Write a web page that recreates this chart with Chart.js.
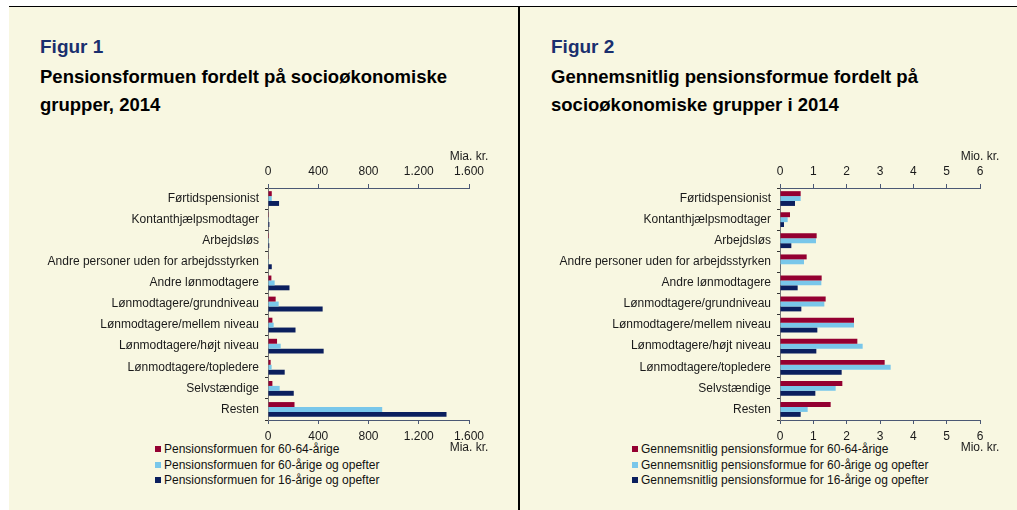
<!DOCTYPE html>
<html>
<head>
<meta charset="utf-8">
<script src="https://cdn.jsdelivr.net/npm/chart.js@4"></script>
<style>
	html, body {
		margin: 0;
		padding: 0;
		background: #ffffff;
		font-family: "Liberation Sans", Arial, sans-serif;
	}
	#page {
		position: relative;
		width: 1017px;
		height: 510px;
		overflow: hidden;
	}
	.panel {
		position: absolute;
		top: 6px;
		height: 504px;
		background: #f8f7e1;
		border-top: 1px solid #000;
	}
	.fig {
		position: absolute;
		font-weight: bold;
		font-size: 19px;
		color: #1a2f6e;
	}
	.title {
		position: absolute;
		font-weight: bold;
		font-size: 18.5px;
		line-height: 28px;
		color: #000;
	}
	.legend {
		position: absolute;
		font-size: 12px;
		color: #111;
		line-height: 15.5px;
	}
	.legend span {
		display: inline-block;
		width: 6px;
		height: 6px;
		margin-right: 3px;
		vertical-align: 1px;
	}
	canvas {
		position: absolute;
		top: 0;
	}
</style>
</head>
<body>
<div id="page">
	<div class="panel" style="left:9px; width:509px; border-right:2px solid #000;"></div>
	<div class="panel" style="left:520px; width:497px;"></div>

	<div class="fig" style="left:40px; top:36px;">Figur 1</div>
	<div class="title" style="left:40px; top:63px;">Pensionsformuen fordelt på socioøkonomiske<br>grupper, 2014</div>
	<div class="fig" style="left:551px; top:36px;">Figur 2</div>
	<div class="title" style="left:551px; top:63px;">Gennemsnitlig pensionsformue fordelt på<br>socioøkonomiske grupper i 2014</div>

	<div class="legend" id="legend1" style="left:155px; top:442px;"></div>
	<div class="legend" id="legend2" style="left:632px; top:442px;"></div>

	<div style="position:absolute; left:0; top:0; width:519px; height:510px;"><canvas id="chart1"></canvas></div>
	<div style="position:absolute; left:519px; top:0; width:498px; height:510px;"><canvas id="chart2"></canvas></div>
</div>
<script>
let categories = [
	'Førtidspensionist',
	'Kontanthjælpsmodtager',
	'Arbejdsløs',
	'Andre personer uden for arbejdsstyrken',
	'Andre lønmodtagere',
	'Lønmodtagere/grundniveau',
	'Lønmodtagere/mellem niveau',
	'Lønmodtagere/højt niveau',
	'Lønmodtagere/topledere',
	'Selvstændige',
	'Resten',
];

// Figur 1, mia. kr.
let formue6064 = [30, 2, 1, 3, 27, 61, 35, 72, 21, 35, 211];
let formue60plus = [30, 2, 1, 1, 53, 85, 45, 101, 29, 93, 909];
let formue16plus = [88, 11, 10, 30, 171, 435, 219, 443, 133, 205, 1421];
let ticks1 = [0, 400, 800, 1200, 1600];

// Figur 2, mio. kr.
let snit6064 = [0.62, 0.30, 1.10, 0.80, 1.25, 1.37, 2.22, 2.32, 3.14, 1.87, 1.52];
let snit60plus = [0.62, 0.23, 1.08, 0.72, 1.24, 1.33, 2.22, 2.48, 3.32, 1.67, 0.83];
let snit16plus = [0.45, 0.12, 0.34, 0.02, 0.53, 0.64, 1.12, 1.09, 1.85, 1.06, 0.62];
let ticks2 = [0, 1, 2, 3, 4, 5, 6];

let colors = ['#940031', '#79c7ea', '#0b1f5e'];
let axisColor = '#4b5874';
let textColor = '#1a1a1a';
let font = {family: '"Liberation Sans", Arial, sans-serif', size: 12};

let fmt = (v) => String(v).replace(/\B(?=(\d{3})+(?!\d))/g, '.');

// unit text centred on the last tick of both x axes
let unitPlugin = {
	id: 'unit',
	afterDraw(chart, args, opts) {
		let {ctx, scales} = chart;
		let x = scales.x.getPixelForValue(scales.x.max);
		ctx.save();
		ctx.font = font.size + 'px ' + font.family;
		ctx.fillStyle = textColor;
		ctx.textAlign = 'center';
		ctx.textBaseline = 'middle';
		ctx.fillText(opts.text, x, scales.x.top - 7);
		ctx.fillText(opts.text, x, scales.x2.bottom + 4);
		ctx.restore();
	},
};

function makeChart(id, legendId, names, series, ticks, unit, plot) {
	let fixHeight = (h) => (scale) => { scale.height = h; };
	let xAxis = (position) => ({
		type: 'linear',
		position,
		min: ticks[0],
		max: ticks[ticks.length - 1],
		afterBuildTicks(scale) {
			scale.ticks = ticks.map((value) => ({value}));
		},
		afterFit: fixHeight(24),
		border: {color: axisColor, width: 1},
		grid: {
			drawOnChartArea: false,
			color: axisColor,
			tickLength: 4,
		},
		ticks: {
			font,
			color: textColor,
			padding: 5,
			maxRotation: 0,
			callback: fmt,
		},
	});
	let chart = new Chart(document.getElementById(id), {
		type: 'bar',
		data: {
			labels: categories,
			datasets: series.map((data, i) => ({
				label: names[i],
				data,
				backgroundColor: colors[i],
				xAxisID: 'x',
				barPercentage: 1,
				categoryPercentage: 0.7,
			})),
		},
		options: {
			indexAxis: 'y',
			responsive: true,
			maintainAspectRatio: false,
			animation: false,
			layout: {
				padding: {left: 0, right: plot.right, top: 164, bottom: 66},
			},
			plugins: {
				legend: {display: false},
				tooltip: {enabled: false},
				unit: {text: unit},
			},
			scales: {
				x: xAxis('top'),
				x2: xAxis('bottom'),
				y: {
					afterFit(scale) {
						scale.width = plot.left;
					},
					border: {color: '#777777', width: 1},
					grid: {
						drawOnChartArea: false,
						color: '#333333',
						tickLength: 3,
						offset: true,
					},
					ticks: {
						font,
						color: textColor,
						padding: 6,
					},
				},
			},
		},
		plugins: [unitPlugin],
	});
	document.getElementById(legendId).innerHTML = names
		.map((n, i) => '<div><span style="background:' + colors[i] + '"></span>' + n + '</div>')
		.join('');
	return chart;
}

makeChart(
	'chart1',
	'legend1',
	[
		'Pensionsformuen for 60-64-årige',
		'Pensionsformuen for 60-årige og opefter',
		'Pensionsformuen for 16-årige og opefter',
	],
	[formue6064, formue60plus, formue16plus],
	ticks1,
	'Mia. kr.',
	{left: 268, right: 50},
);

makeChart(
	'chart2',
	'legend2',
	[
		'Gennemsnitlig pensionsformue for 60-64-årige',
		'Gennemsnitlig pensionsformue for 60-årige og opefter',
		'Gennemsnitlig pensionsformue for 16-årige og opefter',
	],
	[snit6064, snit60plus, snit16plus],
	ticks2,
	'Mio. kr.',
	{left: 261, right: 37},
);
</script>
</body>
</html>
